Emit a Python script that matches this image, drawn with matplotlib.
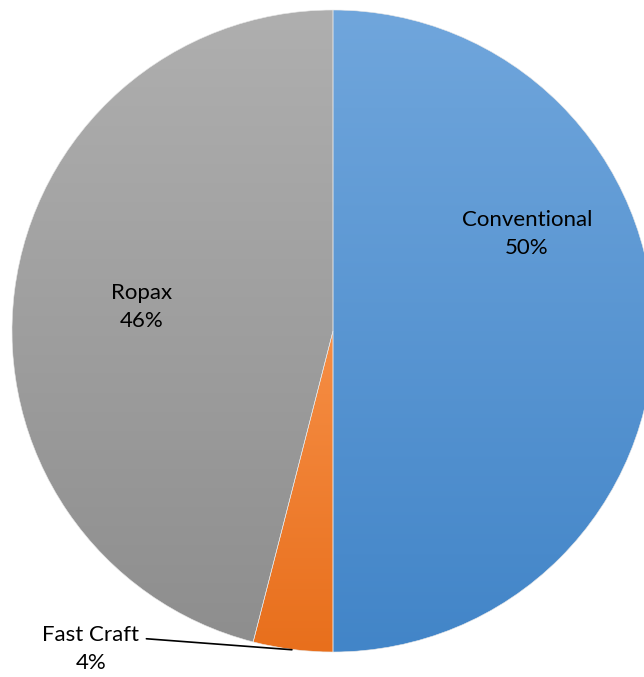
import matplotlib.pyplot as plt
import numpy as np
from matplotlib.colors import LinearSegmentedColormap

labels = ["Conventional", "Fast Craft", "Ropax"]
values = [50, 4, 46]
top_colors = ["#70a6dc", "#f68e45", "#afafaf"]
bottom_colors = ["#4285c8", "#e86f1c", "#8e8e8e"]

plt.rcParams['font.family'] = ['Lato', 'DejaVu Sans']

fig = plt.figure(figsize=(6.44, 6.77), dpi=100)
ax = fig.add_axes([12 / 644, 25 / 677, 642 / 644, 642 / 677])

wedges, _ = ax.pie(values, startangle=90, counterclock=False, radius=1,
                   wedgeprops=dict(linewidth=0.4, edgecolor="#e8e8e8"))

# vertical gradient fill per slice
grad = np.linspace(0, 1, 256).reshape(-1, 1)
for w, c1, c2 in zip(wedges, top_colors, bottom_colors):
    w.set_facecolor("none")
    bb = w.get_path().get_extents(w.get_transform() + ax.transData.inverted())
    cmap = LinearSegmentedColormap.from_list("g", [c1, c2])
    im = ax.imshow(grad, cmap=cmap, aspect="auto",
                   extent=[bb.x0, bb.x1, bb.y0, bb.y1], origin="upper",
                   zorder=w.get_zorder() - 0.1)
    im.set_clip_path(w)

ax.set_xlim(-1, 1)
ax.set_ylim(-1, 1)
ax.set_aspect("auto")
ax.axis("off")

fs = 16
ls = 1.5
ax.text(0.604, 0.302, f"{labels[0]}\n{values[0]}%", ha="center", va="center",
        fontsize=fs, linespacing=ls)
ax.text(-0.595, 0.075, f"{labels[2]}\n{values[2]}%", ha="center", va="center",
        fontsize=fs, linespacing=ls)
ax.annotate(f"{labels[1]}\n{values[1]}%", xy=(-0.128, -0.993), xytext=(-0.754, -0.99),
            ha="center", va="center", fontsize=fs, linespacing=ls,
            arrowprops=dict(arrowstyle="-", color="black", lw=1.2,
                            shrinkA=3, shrinkB=0,
                            relpos=(1.0, 0.72)),
            annotation_clip=False)

fig.savefig("out.png", dpi=100)
